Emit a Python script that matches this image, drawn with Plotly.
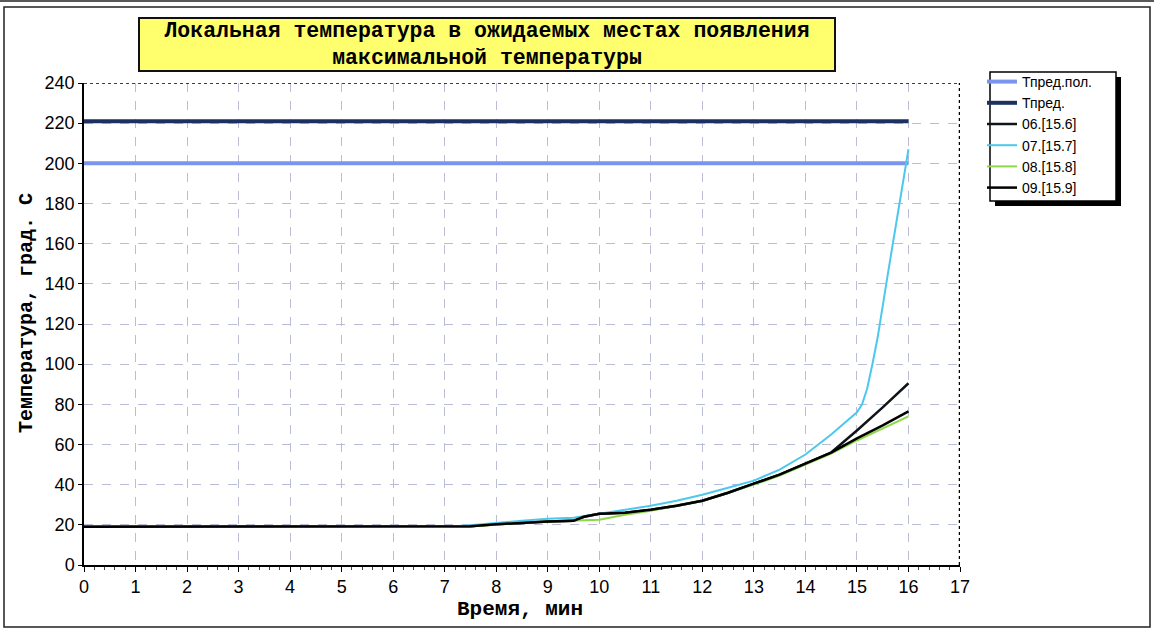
import plotly.graph_objects as go

# ---- data ----
t_lim = [0, 16]
t_pred_pol = [200, 200]
t_pred = [221, 221]

t_07 = [0, 7, 7.5, 8, 8.5, 9, 9.5, 10, 10.5, 11, 11.5, 12, 12.5, 13, 13.5, 14, 14.5, 15, 15.1, 15.2, 15.3, 15.4, 15.6, 15.8, 16]
v_07 = [19, 19, 19.8, 21, 22, 23, 23.5, 25.5, 27.5, 29.5, 32, 35, 38.5, 42, 47.5, 55, 65, 76, 80, 88, 100, 113, 145, 176, 207]

t_08 = [0, 7, 7.5, 8, 8.5, 9, 9.5, 10, 10.5, 11, 11.5, 12, 12.5, 13, 13.5, 14, 14.5, 15, 15.5, 16]
v_08 = [19, 19, 19.3, 20, 21, 21.6, 22, 22.5, 25, 27, 29.5, 32, 36, 40, 44.5, 50, 55.5, 62, 68, 74]

t_06 = [0, 7, 7.5, 8, 8.5, 9, 9.5, 9.7, 10, 10.5, 11, 11.5, 12, 12.5, 13, 13.5, 14, 14.5, 15, 15.5, 16]
v_06 = [19, 19, 19.3, 20.3, 21, 21.6, 22, 24, 25.5, 26, 27.5, 29.5, 32, 36, 40.5, 45, 50.5, 56, 67, 78.5, 90.5]

t_09 = [0, 7, 7.5, 8, 8.5, 9, 9.5, 9.7, 10, 10.5, 11, 11.5, 12, 12.5, 13, 13.5, 14, 14.5, 15, 15.5, 16]
v_09 = [19, 19, 19.3, 20.3, 21, 21.6, 22, 24, 25.5, 26, 27.5, 29.5, 32, 36, 40.5, 45, 50.5, 56, 63, 69.5, 76.5]

x_ticks = list(range(0, 18))
y_ticks = list(range(0, 241, 20))

title_text = "Локальная температура в ожидаемых местах появления<br>максимальной температуры"
x_title = "Время, мин"
y_title = "Температура, град. С"

mono = "Liberation Mono, Courier New, monospace"
narrow = "Liberation Sans Narrow, Arial Narrow, Liberation Sans, Arial"
sans = "Liberation Sans, Arial"

fig = go.Figure()
fig.add_trace(go.Scatter(x=t_lim, y=t_pred_pol, mode="lines", name="Тпред.пол.",
                         line=dict(color="#7b95ee", width=4)))
fig.add_trace(go.Scatter(x=t_lim, y=t_pred, mode="lines", name="Тпред.",
                         line=dict(color="#1c315f", width=4)))
fig.add_trace(go.Scatter(x=t_06, y=v_06, mode="lines", name="06.[15.6]",
                         line=dict(color="#101418", width=2.5)))
fig.add_trace(go.Scatter(x=t_07, y=v_07, mode="lines", name="07.[15.7]",
                         line=dict(color="#4cc8ec", width=2)))
fig.add_trace(go.Scatter(x=t_08, y=v_08, mode="lines", name="08.[15.8]",
                         line=dict(color="#8cd84a", width=2)))
fig.add_trace(go.Scatter(x=t_09, y=v_09, mode="lines", name="09.[15.9]",
                         line=dict(color="#000000", width=2.5)))

L, R, T, B = 84, 194, 83, 64
W, H = 1154, 629
pw, ph = W - L - R, H - T - B

def px(x):
    return (x - L) / pw

def py(y):
    return (H - B - y) / ph

shapes = [
    # outer frame
    dict(type="rect", xref="paper", yref="paper", x0=px(4), x1=px(1150), y0=py(627), y1=py(7),
         line=dict(color="#222222", width=1.5), layer="below"),
    dict(type="line", xref="paper", yref="paper", x0=px(0), x1=px(1154), y0=py(1), y1=py(1),
         line=dict(color="#222222", width=1.5)),
    # dotted top and right border of plot
    dict(type="line", xref="x", yref="y", x0=0, x1=17, y0=240, y1=240,
         line=dict(color="black", width=1.5, dash="dot")),
    dict(type="line", xref="x", yref="y", x0=17, x1=17, y0=0, y1=240,
         line=dict(color="black", width=2.5, dash="dot")),
    # legend box with shadow
    dict(type="rect", xref="paper", yref="paper", x0=px(995), x1=px(1121), y0=py(206), y1=py(77),
         line=dict(width=0), fillcolor="black", layer="below"),
    dict(type="rect", xref="paper", yref="paper", x0=px(990), x1=px(1116), y0=py(201), y1=py(72),
         line=dict(color="black", width=1.5), fillcolor="white", layer="below"),
]

fig.update_layout(
    width=W, height=H,
    margin=dict(l=L, r=R, t=T, b=B),
    paper_bgcolor="white", plot_bgcolor="white",
    showlegend=True,
    legend=dict(x=px(982), y=py(66), xanchor="left", yanchor="top",
                bgcolor="rgba(0,0,0,0)", borderwidth=0,
                font=dict(family=sans, size=14, color="black"),
                tracegroupgap=0, itemwidth=30),
    shapes=shapes,
    annotations=[
        dict(text="<b>" + title_text + "</b>", xref="paper", yref="paper",
             x=px(487), y=py(44.5), xanchor="center", yanchor="middle",
             showarrow=False, font=dict(family=mono, size=21.5, color="black"),
             bgcolor="#ffff6e", bordercolor="#111111", borderwidth=2,
             width=694, height=51, borderpad=0),
        dict(text="<b>" + x_title + "</b>", xref="paper", yref="paper",
             x=px(520), y=py(609), xanchor="center", yanchor="middle",
             showarrow=False, font=dict(family=mono, size=21, color="black")),
        dict(text="<b>" + y_title + "</b>", xref="paper", yref="paper",
             x=px(26), y=py(313), xanchor="center", yanchor="middle", textangle=-90,
             showarrow=False, font=dict(family=mono, size=20, color="black")),
    ],
    xaxis=dict(range=[0, 17], tickvals=x_ticks, ticks="outside", ticklen=5,
               tickcolor="black", showline=True, linecolor="black", linewidth=1.5,
               showgrid=True, gridcolor="#b9bdd6", griddash="dash", gridwidth=1,
               zeroline=False, tickfont=dict(family=narrow, size=18, color="black"),
               minor=dict(ticks="outside", dtick=0.2, ticklen=3, tickcolor="#444444", showgrid=False)),
    yaxis=dict(range=[0, 240], tickvals=y_ticks, ticks="outside", ticklen=4,
               tickcolor="black", showline=True, linecolor="black", linewidth=1.5,
               showgrid=True, gridcolor="#b9bdd6", griddash="dash", gridwidth=1,
               zeroline=False, tickfont=dict(family=narrow, size=18, color="black")),
)

fig.write_html("out.html", config={"displayModeBar": False},
               post_script="document.body.style.margin='0px';")
